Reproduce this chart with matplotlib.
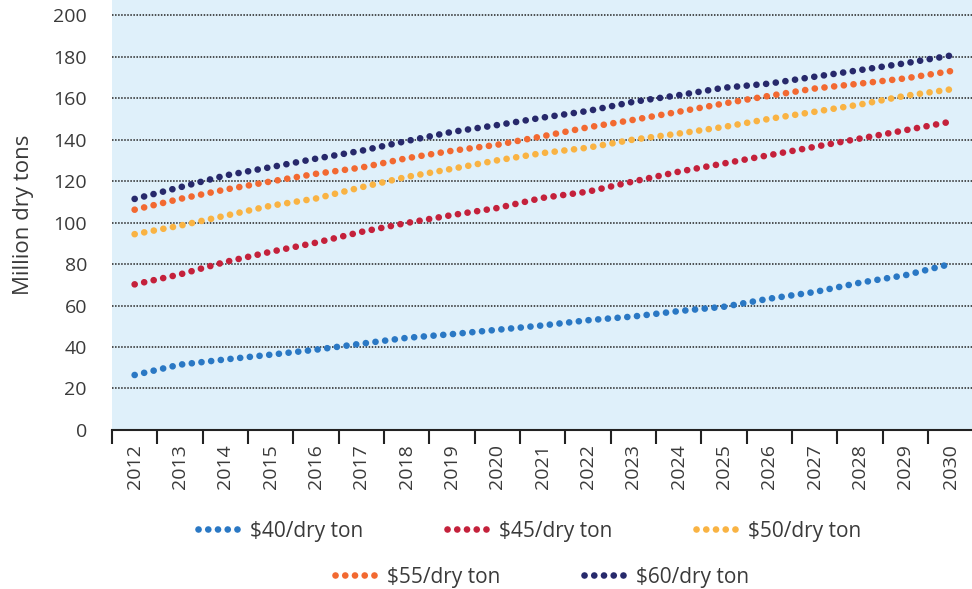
import matplotlib.pyplot as plt
from matplotlib.lines import Line2D

years = ['2012', '2013', '2014', '2015', '2016', '2017', '2018', '2019', '2020', '2021',
         '2022', '2023', '2024', '2025', '2026', '2027', '2028', '2029', '2030']

p40 = [26.5, 31.5, 34.0, 36.3, 38.7, 41.6, 44.4, 46.2, 48.3, 50.4,
       52.9, 54.7, 57.3, 59.4, 63.3, 66.5, 71.0, 74.6, 80.0]
p45 = [70.2, 75.0, 81.0, 85.9, 90.3, 95.5, 99.8, 103.6, 107.0, 111.9,
       114.9, 119.8, 124.5, 128.5, 132.5, 136.5, 140.5, 144.5, 148.6]
p50 = [94.4, 98.5, 103.3, 108.1, 111.6, 117.0, 122.0, 125.9, 130.0, 133.5,
       136.1, 140.0, 142.9, 146.1, 150.0, 153.4, 156.9, 161.1, 164.2]
p55 = [106.2, 111.4, 115.9, 119.8, 123.5, 126.5, 131.0, 134.6, 137.5, 141.6,
       145.9, 149.5, 153.4, 157.4, 161.1, 164.6, 167.0, 169.5, 173.0]
p60 = [111.4, 117.0, 122.7, 126.7, 130.8, 134.6, 139.3, 143.7, 147.0, 150.6,
       153.8, 158.2, 161.4, 165.0, 167.0, 170.3, 173.5, 176.8, 180.5]

labels = ['\\$40/dry ton', '\\$45/dry ton', '\\$50/dry ton', '\\$55/dry ton', '\\$60/dry ton']
colors = ['#2a78c4', '#c4213b', '#f9b343', '#f26931', '#27296b']
series = [p40, p45, p50, p55, p60]

plt.rcParams['font.family'] = ['Open Sans', 'DejaVu Sans']
txt = '#3a3a3a'

fig = plt.figure(figsize=(9.72, 5.89), dpi=100)
ax = fig.add_axes([0.1152, 0.27, 0.886, 0.73])
ax.set_facecolor('#dff0fa')

x = list(range(len(years)))
lw = 4.8
dots = (0, (0.01, 1.45))
for vals, c in zip(series, colors):
    ax.plot(x, vals, color=c, lw=lw, linestyle=dots,
            dash_capstyle='round', solid_capstyle='round')

ax.set_xlim(-0.5, len(years) - 0.5)
ax.set_ylim(0, 207.3)

for v in range(20, 201, 20):
    ax.axhline(v, color='#222222', lw=1.1, linestyle=(0, (1, 1)), zorder=0.5)

ax.set_yticks(range(0, 201, 20))
ax.tick_params(axis='y', length=0, pad=18, labelsize=14, labelcolor=txt)

ax.set_xticks([i - 0.5 for i in x])
ax.set_xticklabels([])
ax.set_xticks(x, minor=True)
ax.set_xticklabels(years, minor=True, rotation=90, fontsize=14, color=txt)
ax.tick_params(axis='x', which='major', length=10, width=1.5, color='#222222')
ax.tick_params(axis='x', which='minor', length=0, pad=10)

for s in ['top', 'right', 'left']:
    ax.spines[s].set_visible(False)
ax.spines['bottom'].set_linewidth(1.5)
ax.spines['bottom'].set_color('#222222')

ax.set_ylabel('Million dry tons', fontsize=16, color=txt, labelpad=14)

handles = [Line2D([0], [0], color=c, lw=lw, linestyle=dots,
                  dash_capstyle='round') for c in colors]

fig.legend(handles[:3], labels[:3], loc='center', bbox_to_anchor=(0.545, 0.098),
           ncol=3, frameon=False, fontsize=15, handlelength=2.0,
           columnspacing=4.0, handletextpad=0.5, labelcolor=txt)
fig.legend(handles[3:], labels[3:], loc='center', bbox_to_anchor=(0.558, 0.02),
           ncol=2, frameon=False, fontsize=15, handlelength=2.0,
           columnspacing=4.0, handletextpad=0.5, labelcolor=txt)

fig.savefig('out.png', dpi=100)
